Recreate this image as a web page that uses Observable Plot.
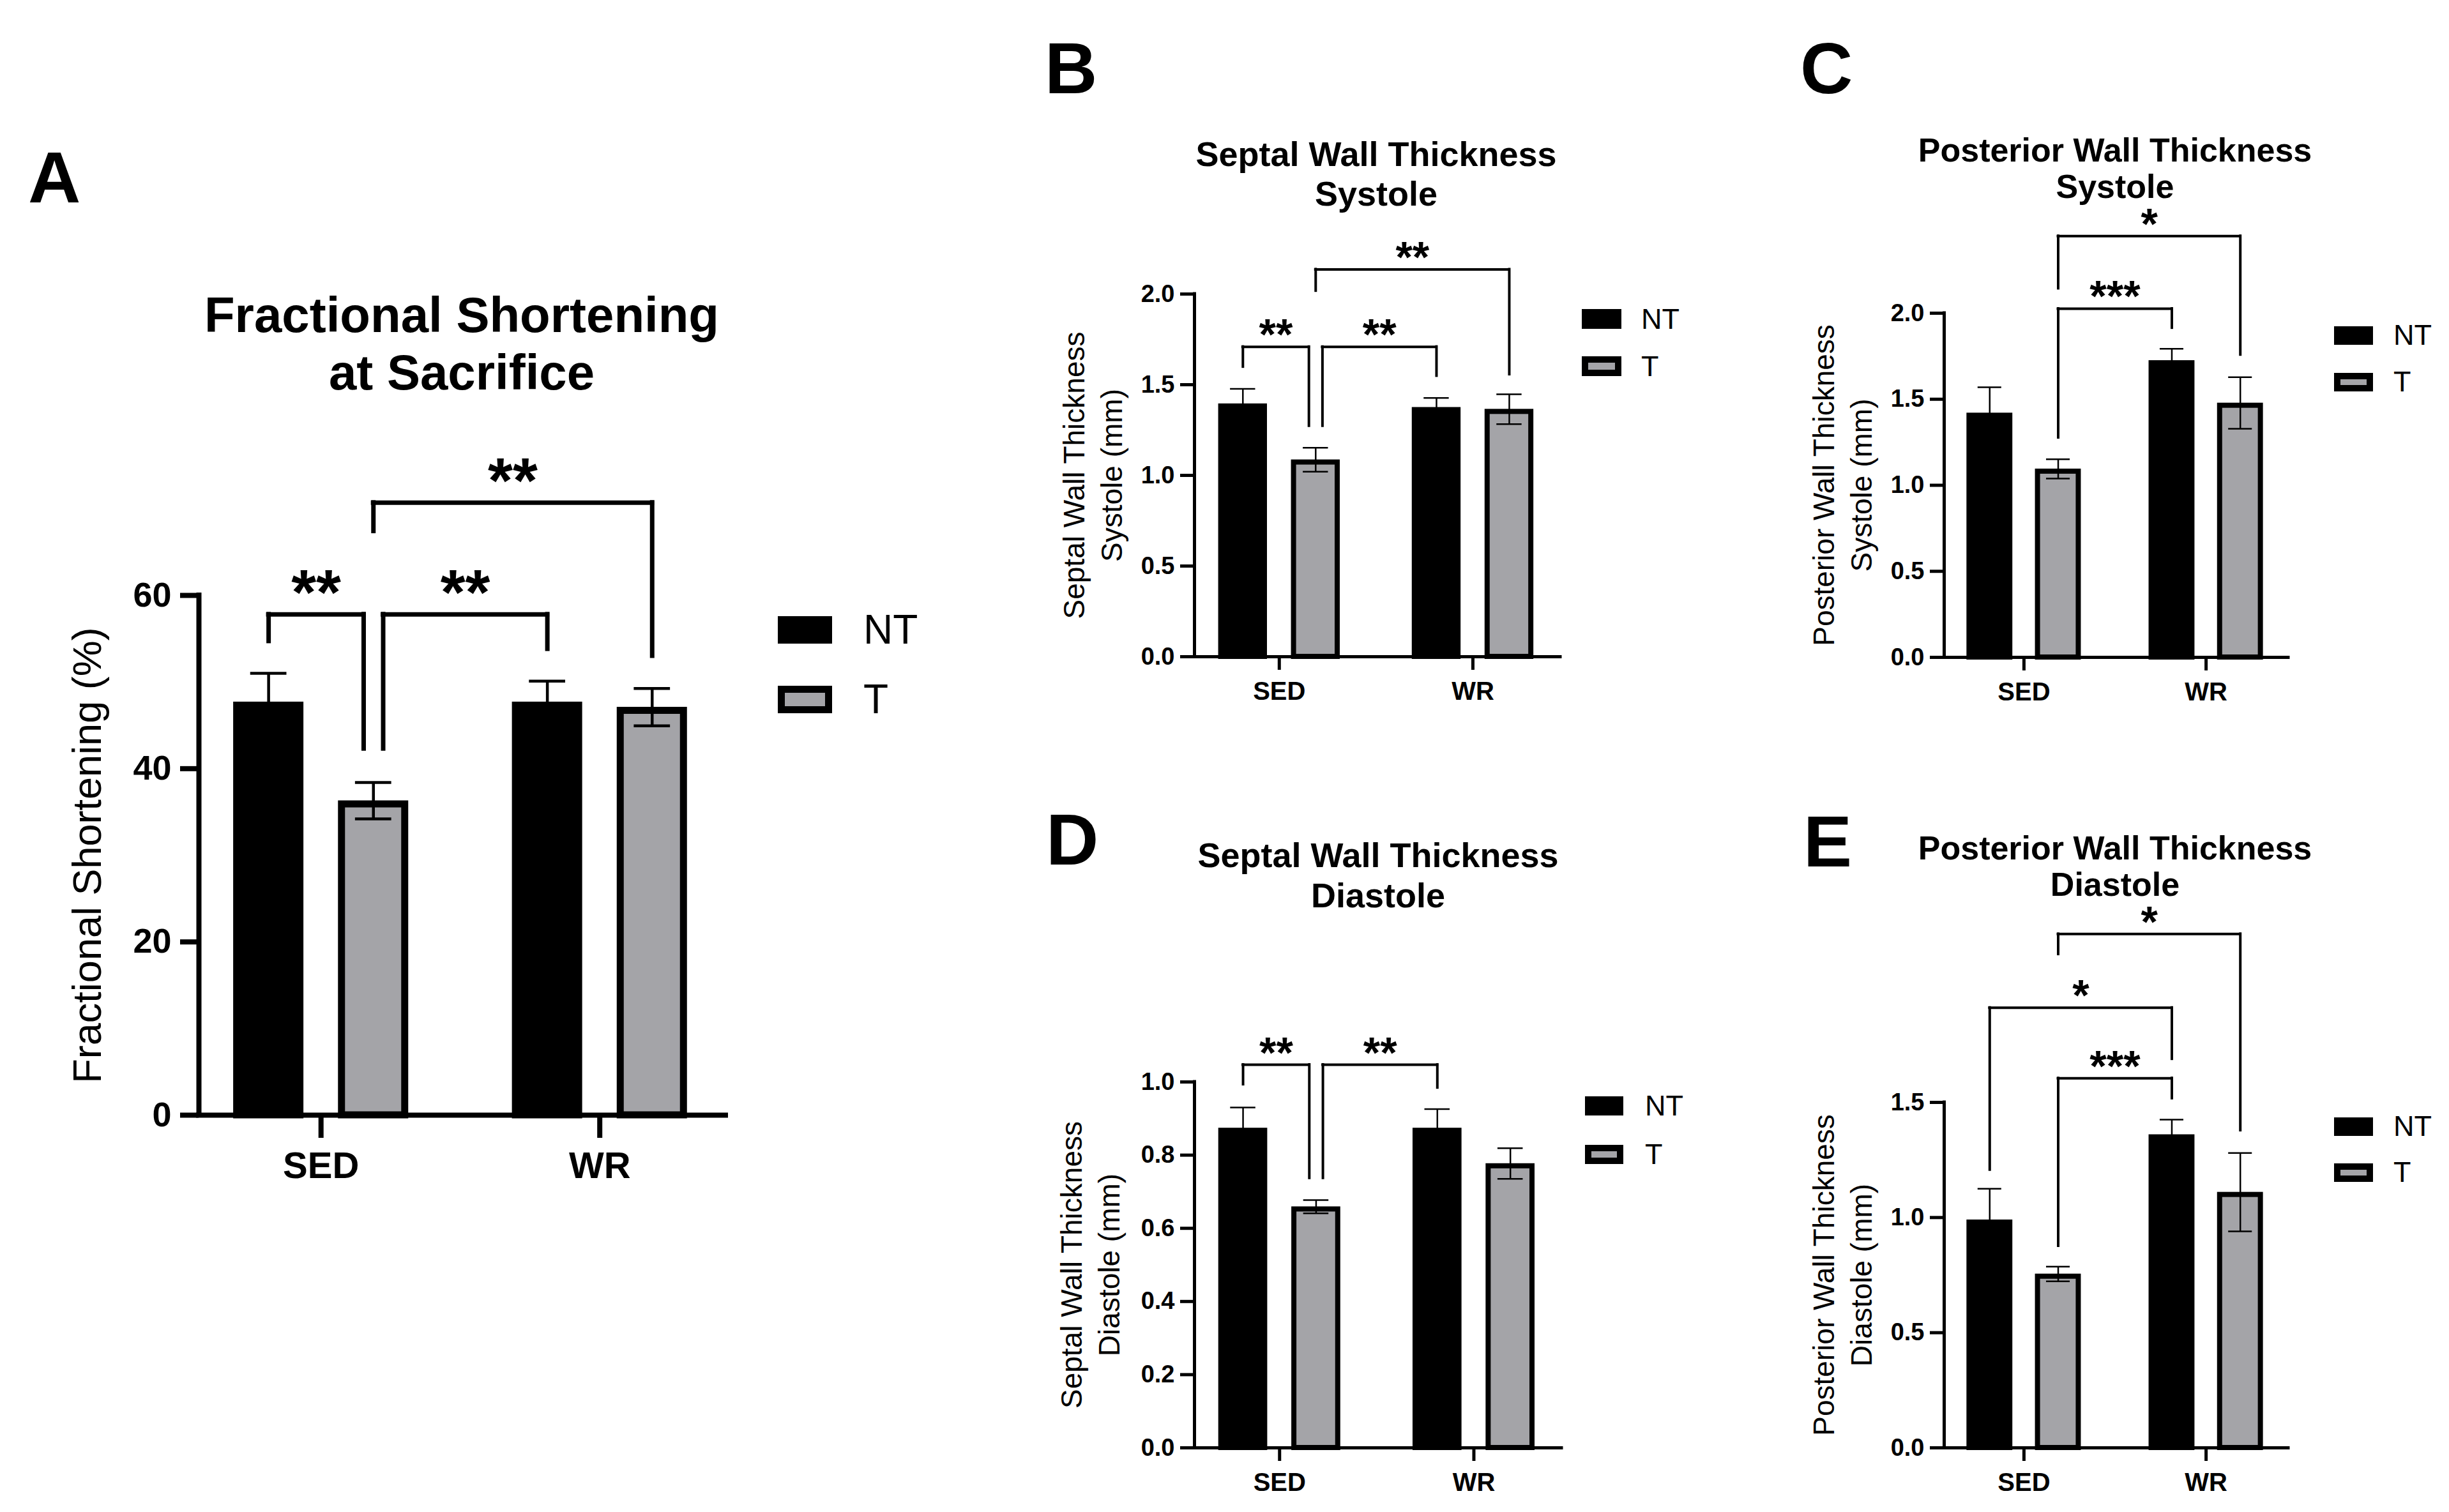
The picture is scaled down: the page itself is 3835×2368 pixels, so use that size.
<!DOCTYPE html>
<html><head><meta charset="utf-8">
<script src="https://cdn.jsdelivr.net/npm/d3@7"></script>
<script src="https://cdn.jsdelivr.net/npm/@observablehq/plot@0.6"></script>
<style>
html,body{margin:0;padding:0;background:#fff;}
#fig{position:relative;width:3835px;height:2368px;overflow:hidden;background:#fff;font-family:"Liberation Sans",Arial,sans-serif;color:#000;}
.abs{position:absolute;white-space:nowrap;line-height:1;}
.sw{position:absolute;box-sizing:border-box;}
</style></head><body><div id="fig"></div>
<script>
// ---------- data ----------
const groups = ["SED", "WR"];
const series = ["NT", "T"];

// A: Fractional Shortening at Sacrifice (%)
const fsNT = [47.7, 47.7];
const fsT = [36.3, 47.1];
const fsNTsem = [3.3, 2.4];
const fsTsem = [2.1, 2.15];
const fsTicks = [0, 20, 40, 60];
const fsBrackets = [
  {from: ["SED", "NT"], to: ["SED", "T"], top: 57.8, endA: 54.7, endB: 42.3, label: "**"},
  {from: ["SED", "T"], to: ["WR", "NT"], top: 57.8, endA: 42.3, endB: 53.8, label: "**"},
  {from: ["SED", "T"], to: ["WR", "T"], top: 70.7, endA: 67.4, endB: 53.0, label: "**"}
];

// B: Septal wall thickness, systole (mm)
const swsNT = [1.395, 1.375];
const swsT = [1.086, 1.365];
const swsNTsem = [0.082, 0.052];
const swsTsem = [0.066, 0.082];
const swsTicks = [0, 0.5, 1.0, 1.5, 2.0];
const swsBrackets = [
  {from: ["SED", "NT"], to: ["SED", "T"], top: 1.709, endA: 1.598, endB: 1.272, label: "**"},
  {from: ["SED", "T"], to: ["WR", "NT"], top: 1.709, endA: 1.272, endB: 1.548, label: "**"},
  {from: ["SED", "T"], to: ["WR", "T"], top: 2.136, endA: 2.017, endB: 1.556, label: "**"}
];

// C: Posterior wall thickness, systole (mm)
const pwsNT = [1.42, 1.725];
const pwsT = [1.095, 1.478];
const pwsNTsem = [0.15, 0.068];
const pwsTsem = [0.056, 0.15];
const pwsTicks = [0, 0.5, 1.0, 1.5, 2.0];
const pwsBrackets = [
  {from: ["SED", "T"], to: ["WR", "NT"], top: 2.026, endA: 1.276, endB: 1.914, label: "***"},
  {from: ["SED", "T"], to: ["WR", "T"], top: 2.448, endA: 2.143, endB: 1.758, label: "*"}
];

// D: Septal wall thickness, diastole (mm)
const swdNT = [0.874, 0.874];
const swdT = [0.659, 0.777];
const swdNTsem = [0.056, 0.052];
const swdTsem = [0.018, 0.042];
const swdTicks = [0, 0.2, 0.4, 0.6, 0.8, 1.0];
const swdBrackets = [
  {from: ["SED", "NT"], to: ["SED", "T"], top: 1.047, endA: 0.993, endB: 0.737, label: "**"},
  {from: ["SED", "T"], to: ["WR", "NT"], top: 1.047, endA: 0.737, endB: 0.984, label: "**"}
];

// E: Posterior wall thickness, diastole (mm)
const pwdNT = [0.99, 1.36];
const pwdT = [0.755, 1.11];
const pwdNTsem = [0.135, 0.065];
const pwdTsem = [0.032, 0.17];
const pwdTicks = [0, 0.5, 1.0, 1.5];
const pwdBrackets = [
  {from: ["SED", "T"], to: ["WR", "NT"], top: 1.605, endA: 0.876, endB: 1.517, label: "***"},
  {from: ["SED", "NT"], to: ["WR", "NT"], top: 1.911, endA: 1.207, endB: 1.688, label: "*"},
  {from: ["SED", "T"], to: ["WR", "T"], top: 2.231, endA: 2.143, endB: 1.378, label: "*"}
];

// ---------- styling ----------
const GRAY = "#a4a4a8";
const OFF = 0.188, HW = 0.126, CAP = 0.065, NUDGE = 0.035;
const XDOMAIN = [-0.438, 1.452];
const FONT = "'Liberation Sans', Arial, sans-serif";
const bigSty = {bar: 11, err: 4.5, brk: 7, axis: 8, ytick: 29, ypad: 14, xtick: 36, xpad: 21, tickFont: 54, xFont: 58, ast: 100, astDy: 0, ylFont: 63, ylLH: 1.2};
const smSty = {bar: 8, err: 2.5, brk: 4, axis: 5, ytick: 22, ypad: 9, xtick: 21, xpad: 18, tickFont: 38, xFont: 40, ast: 68, astDy: 4, ylFont: 46, ylLH: 1.28};

const fig = document.getElementById("fig");

function pos(g, s) { return groups.indexOf(g) + (s === series[0] ? -OFF : OFF); }

function rowsOf(nt, t, ntSem, tSem) {
  const r = [];
  groups.forEach((g, i) => {
    r.push({group: g, series: series[0], mean: nt[i], sem: ntSem[i]});
    r.push({group: g, series: series[1], mean: t[i], sem: tSem[i]});
  });
  return r;
}

function bracketGeom(brs) {
  const key = a => a.join("|");
  return brs.map(b => {
    let na = 0, nb = 0;
    brs.forEach(o => {
      if (o === b || o.top !== b.top) return;
      if (key(o.to) === key(b.from)) na = NUDGE;
      if (key(o.from) === key(b.to)) nb = -NUDGE;
    });
    const xa = pos(...b.from) + na, xb = pos(...b.to) + nb;
    return {...b, xa, xb, xm: (xa + xb) / 2};
  });
}

function drawPanel(cfg) {
  const s = cfg.sty;
  const rows = cfg.rows;
  const px = d => pos(d.group, d.series);
  const br = bracketGeom(cfg.brackets);
  const legs = br.flatMap(b => [{x: b.xa, y1: b.endA, y2: b.top}, {x: b.xb, y1: b.endB, y2: b.top}]);
  const ntRows = rows.filter(d => d.series === series[0]);
  const tRows = rows.filter(d => d.series === series[1]);
  const barOpts = (fill) => ({
    x1: d => px(d) - HW, x2: d => px(d) + HW, y1: () => 0, y2: d => d.mean,
    fill, stroke: "#000", strokeWidth: s.bar,
    insetLeft: s.bar / 2, insetRight: s.bar / 2, insetTop: s.bar / 2
  });
  const chart = Plot.plot({
    width: cfg.w, height: cfg.h,
    marginLeft: cfg.ml, marginRight: cfg.mr, marginTop: cfg.mt, marginBottom: cfg.mb,
    x: {domain: XDOMAIN},
    y: {domain: [0, cfg.yMax]},
    style: {fontFamily: FONT, background: "transparent", overflow: "visible", color: "#000"},
    marks: [
      Plot.rectY(ntRows, barOpts("#000")),
      Plot.rectY(tRows, barOpts(GRAY)),
      Plot.ruleX(rows, {x: px, y1: d => d.mean - d.sem, y2: d => d.mean + d.sem, stroke: "#000", strokeWidth: s.err}),
      Plot.ruleY(rows, {x1: d => px(d) - CAP, x2: d => px(d) + CAP, y: d => d.mean + d.sem, stroke: "#000", strokeWidth: s.err}),
      Plot.ruleY(rows, {x1: d => px(d) - CAP, x2: d => px(d) + CAP, y: d => d.mean - d.sem, stroke: "#000", strokeWidth: s.err}),
      Plot.axisY({ticks: cfg.yTicks, tickFormat: cfg.fmt, tickSize: s.ytick, tickPadding: s.ypad, strokeWidth: s.axis, fontSize: s.tickFont, fontWeight: "bold", label: null}),
      Plot.axisX({ticks: groups.map((g, i) => i), tickFormat: i => groups[i], tickSize: s.xtick, tickPadding: s.xpad, strokeWidth: s.axis, fontSize: s.xFont, fontWeight: "bold", label: null}),
      Plot.ruleY([0], {stroke: "#000", strokeWidth: s.axis, strokeLinecap: "square"}),
      Plot.ruleX([XDOMAIN[0]], {y1: () => 0, y2: () => cfg.yMax, stroke: "#000", strokeWidth: s.axis, strokeLinecap: "square"}),
      Plot.ruleY(br, {x1: "xa", x2: "xb", y: "top", stroke: "#000", strokeWidth: s.brk, strokeLinecap: "square"}),
      Plot.ruleX(legs, {x: "x", y1: "y1", y2: "y2", stroke: "#000", strokeWidth: s.brk, strokeLinecap: "square"}),
      Plot.text(br, {x: "xm", y: "top", text: "label", lineAnchor: "bottom", dy: s.astDy, fontSize: s.ast, fontWeight: "bold", fill: "#000"}),
      Plot.text([cfg.ylabel], {frameAnchor: "left", text: d => d, rotate: -90, dx: cfg.ylDx, fontSize: s.ylFont, fontWeight: "normal", lineHeight: s.ylLH, lineAnchor: "middle", textAnchor: "middle", fill: "#000"})
    ]
  });
  chart.style.position = "absolute";
  chart.style.left = cfg.left + "px";
  chart.style.top = cfg.top + "px";
  chart.style.maxWidth = "none";
  fig.appendChild(chart);
}

function txt(str, x, base, size, weight, anchor) {
  const d = document.createElement("div");
  d.className = "abs";
  d.textContent = str;
  d.style.fontSize = size + "px";
  d.style.fontWeight = weight || "normal";
  d.style.top = (base - 0.8465 * size) + "px";
  d.style.left = x + "px";
  if (anchor === "middle") d.style.transform = "translateX(-50%)";
  fig.appendChild(d);
}

function swatch(x, y, w, h, fill, border) {
  const d = document.createElement("div");
  d.className = "sw";
  Object.assign(d.style, {left: x + "px", top: y + "px", width: w + "px", height: h + "px", background: fill,
    border: border ? border + "px solid #000" : "none"});
  fig.appendChild(d);
}

function legend(x, yNT, yT, w, h, border, tx, size) {
  swatch(x, yNT, w, h, "#000", 0);
  swatch(x, yT, w, h, GRAY, border);
  txt(series[0], tx, yNT + h, size, "normal");
  txt(series[1], tx, yT + h, size, "normal");
}

// ---------- panels ----------
drawPanel({rows: rowsOf(fsNT, fsT, fsNTsem, fsTsem), brackets: fsBrackets, yMax: 60, yTicks: fsTicks, fmt: d3.format("d"),
  ylabel: "Fractional Shortening (%)", ylDx: -178, sty: bigSty,
  left: 0, top: 640, w: 1200, h: 1260, ml: 311, mr: 64, mt: 292, mb: 154});
drawPanel({rows: rowsOf(swsNT, swsT, swsNTsem, swsTsem), brackets: swsBrackets, yMax: 2, yTicks: swsTicks, fmt: d3.format(".1f"),
  ylabel: "Septal Wall Thickness\nSystole (mm)", ylDx: -162, sty: smSty,
  left: 1600, top: 340, w: 860, h: 790, ml: 270, mr: 17, mt: 120, mb: 102});
drawPanel({rows: rowsOf(pwsNT, pwsT, pwsNTsem, pwsTsem), brackets: pwsBrackets, yMax: 2, yTicks: pwsTicks, fmt: d3.format(".1f"),
  ylabel: "Posterior Wall Thickness\nSystole (mm)", ylDx: -162, sty: smSty,
  left: 2750, top: 300, w: 860, h: 830, ml: 294, mr: 27, mt: 190, mb: 101});
drawPanel({rows: rowsOf(swdNT, swdT, swdNTsem, swdTsem), brackets: swdBrackets, yMax: 1, yTicks: swdTicks, fmt: d3.format(".1f"),
  ylabel: "Septal Wall Thickness\nDiastole (mm)", ylDx: -166, sty: smSty,
  left: 1600, top: 1550, w: 860, h: 818, ml: 270, mr: 15, mt: 144, mb: 101});
drawPanel({rows: rowsOf(pwdNT, pwdT, pwdNTsem, pwdTsem), brackets: pwdBrackets, yMax: 1.5, yTicks: pwdTicks, fmt: d3.format(".1f"),
  ylabel: "Posterior Wall Thickness\nDiastole (mm)", ylDx: -162, sty: smSty,
  left: 2750, top: 1380, w: 860, h: 988, ml: 294, mr: 27, mt: 346, mb: 101});

// ---------- titles, panel letters, legends ----------
txt("A", 44, 318, 114, "bold");
txt("B", 1636, 147, 114, "bold");
txt("C", 2819, 147, 114, "bold");
txt("D", 1638, 1355, 114, "bold");
txt("E", 2824, 1358, 114, "bold");

txt("Fractional Shortening", 723, 520, 78, "bold", "middle");
txt("at Sacrifice", 723, 610, 78, "bold", "middle");
txt("Septal Wall Thickness", 2155, 260, 54, "bold", "middle");
txt("Systole", 2155, 322, 54, "bold", "middle");
txt("Posterior Wall Thickness", 3312, 253, 52, "bold", "middle");
txt("Systole", 3312, 310, 52, "bold", "middle");
txt("Septal Wall Thickness", 2158, 1358, 54, "bold", "middle");
txt("Diastole", 2158, 1421, 54, "bold", "middle");
txt("Posterior Wall Thickness", 3312, 1346, 52, "bold", "middle");
txt("Diastole", 3312, 1403, 52, "bold", "middle");

legend(1218, 965, 1074, 85, 43, 11, 1352, 64);
legend(2477, 484, 558, 62, 31, 10, 2570, 45);
legend(3655, 511, 584, 61, 29, 10, 3748, 45);
legend(2482, 1717, 1793, 60, 30, 10, 2576, 45);
legend(3655, 1750, 1822, 61, 29, 10, 3748, 45);
</script></body></html>
